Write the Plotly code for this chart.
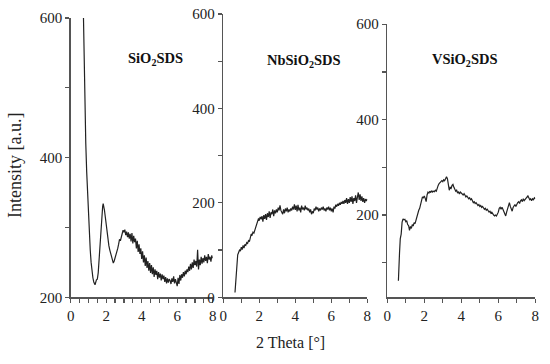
import plotly.graph_objects as go

# ---------------- data ----------------
si_x = [0.72, 0.76, 0.80, 0.85, 0.90, 0.95, 1.00, 1.05, 1.10, 1.15, 1.20, 1.25, 1.30, 1.37, 1.45, 1.50, 1.55, 1.60, 1.65, 1.70, 1.74, 1.80, 1.83, 1.87, 1.90, 1.95, 2.00, 2.05, 2.10, 2.15, 2.20, 2.25, 2.30, 2.35,
        2.40, 2.45, 2.50, 2.55, 2.60, 2.65, 2.70, 2.75, 2.80, 2.85, 2.90, 2.95, 3.00, 3.05, 3.10, 3.15, 3.20, 3.25, 3.30, 3.35, 3.40, 3.45, 3.50, 3.55, 3.60, 3.65, 3.70, 3.75, 3.80, 3.85, 3.90, 3.95,
        4.00, 4.05, 4.10, 4.15, 4.20, 4.25, 4.30, 4.35, 4.40, 4.45, 4.50, 4.55, 4.60, 4.65, 4.70, 4.75, 4.80, 4.85, 4.90, 4.95, 5.00, 5.05, 5.10, 5.15, 5.20, 5.25, 5.30, 5.35, 5.40, 5.45, 5.50, 5.55,
        5.60, 5.65, 5.70, 5.75, 5.80, 5.85, 5.90, 5.95, 6.00, 6.05, 6.10, 6.15, 6.20, 6.25, 6.30, 6.35, 6.40, 6.45, 6.50, 6.55, 6.60, 6.65, 6.70, 6.75, 6.80, 6.85, 6.90, 6.95, 7.00, 7.05, 7.10, 7.15,
        7.20, 7.25, 7.30, 7.35, 7.40, 7.45, 7.50, 7.55, 7.60, 7.65, 7.70, 7.75, 7.80, 7.85, 7.90, 7.95, 8.00]
si_y = [600, 530, 470, 420, 380, 345, 315, 290, 268, 250, 236, 228, 222, 218, 225, 226, 235, 255, 275, 300, 317, 330, 334, 330, 325, 315, 302, 290, 280, 274, 268, 262, 258, 252,
        249, 252, 256, 262, 266, 270, 276, 283, 281, 288, 291, 296, 293, 297, 289, 294, 286, 293, 284, 291, 280, 292, 277, 288, 279, 284, 270, 281, 265, 276, 262, 270,
        255, 266, 250, 260, 245, 257, 242, 252, 238, 249, 235, 246, 233, 243, 229, 240, 232, 238, 226, 236, 228, 234, 224, 233, 226, 231, 222, 229, 220, 227, 221, 226,
        224, 219, 227, 222, 230, 220, 226, 218, 216, 228, 219, 232, 224, 233, 228, 236, 230, 238, 233, 240, 236, 244, 238, 248, 240, 250, 242, 254, 246, 252, 244, 268,
        240, 254, 246, 258, 248, 256, 250, 260, 252, 258, 249, 262, 254, 258, 251, 260, 256]

nb_x = [0.65, 0.70, 0.75, 0.80, 0.85, 0.90, 0.95, 1.00, 1.05, 1.10, 1.15, 1.20, 1.25, 1.30, 1.35, 1.40, 1.45, 1.50, 1.55, 1.60, 1.65, 1.70, 1.75, 1.80, 1.85, 1.90, 1.95,
        2.00, 2.05, 2.10, 2.15, 2.20, 2.25, 2.30, 2.35, 2.40, 2.45, 2.50, 2.55, 2.60, 2.65, 2.70, 2.75, 2.80, 2.85, 2.90, 2.95, 3.00, 3.05, 3.10, 3.15, 3.20, 3.25, 3.30, 3.35, 3.40, 3.45,
        3.50, 3.55, 3.60, 3.65, 3.70, 3.75, 3.80, 3.85, 3.90, 3.95, 4.00, 4.05, 4.10, 4.15, 4.20, 4.25, 4.30, 4.35, 4.40, 4.45, 4.50, 4.55, 4.60, 4.65, 4.70, 4.75, 4.80, 4.85, 4.90, 4.95,
        5.00, 5.05, 5.10, 5.15, 5.20, 5.25, 5.30, 5.35, 5.40, 5.45, 5.50, 5.55, 5.60, 5.65, 5.70, 5.75, 5.80, 5.85, 5.90, 5.95, 6.00, 6.05, 6.10, 6.15, 6.20, 6.25, 6.30, 6.35, 6.40, 6.45,
        6.50, 6.55, 6.60, 6.65, 6.70, 6.75, 6.80, 6.85, 6.90, 6.95, 7.00, 7.05, 7.10, 7.15, 7.20, 7.25, 7.30, 7.35, 7.40, 7.45, 7.50, 7.55, 7.60, 7.65, 7.70, 7.75, 7.80, 7.85, 7.90, 7.95, 8.00]
nb_y = [10, 40, 75, 90, 95, 100, 98, 106, 101, 110, 104, 112, 110, 116, 114, 120, 118, 126, 134, 132, 138, 136, 142, 150, 156, 162, 166,
        164, 170, 165, 172, 160, 174, 166, 176, 164, 178, 170, 182, 168, 180, 176, 186, 172, 184, 178, 186, 180, 190, 184, 195, 184, 180, 176, 186, 178, 188,
        182, 190, 180, 186, 182, 188, 184, 192, 186, 197, 185, 194, 182, 196, 184, 190, 180, 194, 186, 190, 184, 194, 186, 190, 184, 188, 180, 186, 176, 182,
        178, 188, 184, 192, 186, 190, 182, 188, 184, 190, 186, 192, 184, 188, 182, 190, 186, 192, 184, 190, 182, 188, 180, 192, 188, 196, 192, 198, 194, 200,
        196, 202, 198, 204, 198, 206, 200, 210, 198, 208, 200, 212, 202, 214, 198, 210, 204, 216, 200, 212, 222, 206, 218, 204, 214, 202, 210, 200, 208, 204, 208]

v_x = [0.60, 0.63, 0.66, 0.70, 0.75, 0.80, 0.85, 0.90, 0.95, 1.00, 1.05, 1.10, 1.15, 1.20, 1.25, 1.30, 1.35, 1.40, 1.45, 1.50, 1.55, 1.60, 1.65, 1.70, 1.75, 1.80, 1.85, 1.90, 1.95,
       2.00, 2.05, 2.10, 2.15, 2.20, 2.25, 2.30, 2.35, 2.40, 2.45, 2.50, 2.55, 2.60, 2.65, 2.70, 2.75, 2.80, 2.85, 2.90, 2.95, 3.00, 3.05, 3.10, 3.15, 3.20, 3.25, 3.30, 3.35, 3.40, 3.45,
       3.50, 3.55, 3.60, 3.65, 3.70, 3.75, 3.80, 3.85, 3.90, 3.95, 4.00, 4.05, 4.10, 4.15, 4.20, 4.25, 4.30, 4.35, 4.40, 4.45, 4.50, 4.55, 4.60, 4.65, 4.70, 4.75, 4.80, 4.85, 4.90, 4.95,
       5.00, 5.05, 5.10, 5.15, 5.20, 5.25, 5.30, 5.35, 5.40, 5.45, 5.50, 5.55, 5.60, 5.65, 5.70, 5.75, 5.80, 5.85, 5.90, 5.95, 6.00, 6.05, 6.10, 6.15, 6.20, 6.25, 6.30, 6.35, 6.40, 6.45,
       6.50, 6.55, 6.60, 6.65, 6.70, 6.75, 6.80, 6.85, 6.90, 6.95, 7.00, 7.05, 7.10, 7.15, 7.20, 7.25, 7.30, 7.35, 7.40, 7.45, 7.50, 7.55, 7.60, 7.65, 7.70, 7.75, 7.80, 7.85, 7.90, 7.95, 8.00]
v_y = [62, 80, 120, 150, 160, 185, 192, 190, 191, 186, 188, 180, 178, 168, 176, 172, 180, 177, 184, 182, 190, 196, 205, 210, 214, 222, 232, 238, 236,
       240, 235, 228, 242, 248, 246, 250, 247, 251, 248, 250, 249, 252, 250, 258, 262, 266, 268, 270, 272, 270, 274, 272, 276, 280, 276, 262, 252, 258, 256,
       262, 264, 258, 254, 250, 252, 246, 249, 244, 248, 246, 244, 242, 245, 240, 238, 240, 236, 234, 236, 232, 234, 230, 226, 228, 224, 226, 222, 220, 222,
       218, 220, 216, 218, 214, 212, 214, 210, 212, 208, 206, 208, 204, 206, 202, 200, 198, 200, 198, 202, 206, 214, 216, 212, 216, 212, 206, 200, 198, 206,
       212, 222, 226, 218, 212, 208, 216, 220, 222, 218, 224, 226, 228, 224, 230, 232, 228, 234, 230, 232, 236, 238, 240, 236, 232, 234, 230, 234, 232, 236, 234]

panel_titles = ["<b>SiO<sub>2</sub>SDS</b>", "<b>NbSiO<sub>2</sub>SDS</b>", "<b>VSiO<sub>2</sub>SDS</b>"]
x_title = "2 Theta [°]"
y_title = "Intensity [a.u.]"

# ---------------- figure ----------------
W, H = 550, 364
FONT = "Liberation Serif"
AX = "#555555"

def px_x(a, b):
    return [a / W, b / W]

def px_y(top, bottom):
    return [1 - bottom / H, 1 - top / H]

fig = go.Figure()
series = [(si_x, si_y), (nb_x, nb_y), (v_x, v_y)]
for i, (xs, ys) in enumerate(series):
    ax = "" if i == 0 else str(i + 1)
    fig.add_trace(go.Scatter(x=xs, y=ys, mode="lines", xaxis="x" + ax, yaxis="y" + ax,
                             line=dict(color="#222222", width=1.2), showlegend=False))

def axis(minor_dtick, **kw):
    d = dict(showline=True, linecolor=AX, linewidth=1.5, ticks="outside", ticklen=4,
             tickcolor=AX, tickwidth=1.2, showgrid=False, zeroline=False, automargin=False,
             tickfont=dict(family=FONT, size=15, color="#222222"),
             minor=dict(ticks="outside", ticklen=4, tickcolor=AX, tickwidth=1.2,
                        dtick=minor_dtick, tick0=0, showgrid=False))
    d.update(kw)
    return d

fig.update_layout(
    width=W, height=H, margin=dict(l=0, r=0, t=0, b=0, autoexpand=False),
    template="none",
    paper_bgcolor="white", plot_bgcolor="white",
    xaxis=axis(0.5, domain=px_x(70.7, 212.7), range=[0, 8], anchor="y", tick0=0, dtick=2),
    yaxis=axis(100, domain=px_y(18, 297.3), range=[200, 600], anchor="x", tick0=0, dtick=200),
    xaxis2=axis(1, domain=px_x(223.3, 367.3), range=[0, 8], anchor="y2", tick0=0, dtick=2),
    yaxis2=axis(100, domain=px_y(14, 297.3), range=[0, 600], anchor="x2", tick0=0, dtick=200),
    xaxis3=axis(1, domain=px_x(387.3, 535.3), range=[0, 8], anchor="y3", tick0=0, dtick=2),
    yaxis3=axis(100, domain=px_y(24.2, 297.3), range=[27.5, 600], anchor="x3", tick0=0, dtick=200),
)

title_pos = [(155, 59), (304, 61), (465, 60)]
for t, (x, y) in zip(panel_titles, title_pos):
    fig.add_annotation(text=t, x=x / W, y=1 - y / H, xref="paper", yref="paper",
                       showarrow=False, xanchor="center", yanchor="middle",
                       font=dict(family=FONT, size=14.5, color="#111111"))

fig.add_annotation(text=x_title, x=290 / W, y=1 - 342 / H, xref="paper", yref="paper",
                   showarrow=False, xanchor="center", yanchor="middle",
                   font=dict(family=FONT, size=16, color="#222222"))
fig.add_annotation(text=y_title, x=15 / W, y=1 - 166 / H, xref="paper", yref="paper",
                   showarrow=False, xanchor="center", yanchor="middle", textangle=-90,
                   font=dict(family=FONT, size=18, color="#222222"))

fig.write_html("out.html", config={"displayModeBar": False, "staticPlot": True})

# remove the default page margin so the figure sits at the window's origin
with open("out.html", "r", encoding="utf-8") as f:
    html = f.read()
html = html.replace("<body>", '<body style="margin:0;padding:0;overflow:hidden">', 1)
with open("out.html", "w", encoding="utf-8") as f:
    f.write(html)
